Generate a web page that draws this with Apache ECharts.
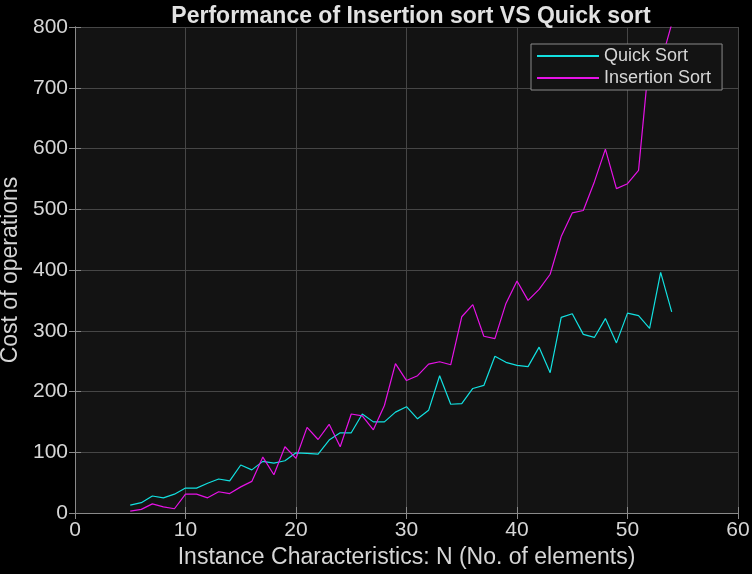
<!doctype html>
<html lang="en">
<head>
	<meta charset="UTF-8">
	<title>Insertion sort VS Quick sort</title>
	<style>
		html, body { margin: 0; padding: 0; background: #000; }
		#chart { width: 752px; height: 574px; }
	</style>
</head>
<body>
<div id="chart"></div>
<script src="https://cdn.jsdelivr.net/npm/echarts@6/dist/echarts.min.js"></script>
<script>
	// N values (no. of elements)
	var sizes = [5, 6, 7, 8, 9, 10, 11, 12, 13, 14, 15, 16, 17, 18, 19, 20, 21, 22, 23, 24,
		25, 26, 27, 28, 29, 30, 31, 32, 33, 34, 35, 36, 37, 38, 39, 40, 41, 42, 43, 44,
		45, 46, 47, 48, 49, 50, 51, 52, 53, 54];

	var quickCost = [13, 17, 28, 25, 31, 41, 41, 49, 56, 53, 79, 71, 85, 82, 86, 99, 98, 97, 120, 132,
		132, 163, 150, 150, 166, 175, 155, 169, 226, 179, 180, 205, 210, 258, 248, 243, 241, 273, 231, 322,
		328, 294, 289, 320, 280, 329, 325, 304, 396, 331];

	var insertionCost = [3, 6, 15, 10, 7, 31, 31, 25, 35, 32, 43, 52, 92, 63, 109, 90, 141, 121, 146, 109,
		163, 160, 137, 177, 246, 218, 226, 245, 249, 244, 323, 343, 291, 287, 345, 382, 350, 368, 393, 455,
		494, 498, 545, 599, 534, 542, 564, 755, 740, 805];

	var xTicks = { min: 0, max: 60, interval: 10 };
	var yTicks = { min: 0, max: 800, interval: 100 };

	function pairs(xs, ys) {
		var out = [];
		for (var i = 0; i < xs.length; i++) out.push([xs[i], ys[i]]);
		return out;
	}

	var txt = '#d6d6d6';
	var axisCol = '#8a8a8a';
	var font = 'Liberation Sans';

	var boxAxis = {
		axisLine: { show: true, lineStyle: { color: axisCol, width: 1 } },
		axisTick: { show: true, inside: true, length: 6, lineStyle: { color: axisCol } },
		axisLabel: { show: false },
		splitLine: { show: false }
	};

	var myChart = echarts.init(document.getElementById('chart'));
	var option = {
		animation: false,
		backgroundColor: '#000',
		title: {
			text: 'Performance of Insertion sort VS Quick sort',
			left: 406, textAlign: 'center', top: 0,
			textStyle: { color: '#e2e2e2', fontFamily: font, fontSize: 23, fontWeight: 'bold' }
		},
		legend: {
			orient: 'vertical',
			left: 531, top: 44,
			padding: [3, 11, 3, 6],
			itemGap: 4,
			itemWidth: 62, itemHeight: 2,
			icon: 'rect',
			backgroundColor: '#131313',
			borderColor: axisCol, borderWidth: 1,
			textStyle: { color: txt, fontFamily: font, fontSize: 18 },
			data: ['Quick Sort', 'Insertion Sort']
		},
		grid: {
			left: 75, right: 14, top: 27, bottom: 61,
			outerBoundsMode: 'none',
			show: true, backgroundColor: '#131313', borderWidth: 0
		},
		xAxis: [{
			type: 'value',
			min: xTicks.min, max: xTicks.max, interval: xTicks.interval,
			name: 'Instance Characteristics: N (No. of elements)',
			nameLocation: 'middle', nameGap: 32,
			nameTextStyle: { color: txt, fontFamily: font, fontSize: 23 },
			axisLine: { show: true, onZero: false, lineStyle: { color: axisCol, width: 1 } },
			axisTick: { show: true, inside: true, length: 6, lineStyle: { color: axisCol } },
			axisLabel: { color: txt, fontFamily: font, fontSize: 21, margin: 7 },
			splitLine: { show: true, lineStyle: { color: '#464646', width: 1 } }
		}, Object.assign({
			type: 'value', position: 'top',
			min: xTicks.min, max: xTicks.max, interval: xTicks.interval
		}, boxAxis)],
		yAxis: [{
			type: 'value',
			min: yTicks.min, max: yTicks.max, interval: yTicks.interval,
			name: 'Cost of operations',
			nameLocation: 'middle', nameGap: 48,
			nameTextStyle: { color: txt, fontFamily: font, fontSize: 23 },
			axisLine: { show: true, onZero: false, lineStyle: { color: axisCol, width: 1 } },
			axisTick: { show: true, inside: true, length: 6, lineStyle: { color: axisCol } },
			axisLabel: { color: txt, fontFamily: font, fontSize: 21, margin: 7 },
			splitLine: { show: true, lineStyle: { color: '#464646', width: 1 } }
		}, Object.assign({
			type: 'value', position: 'right',
			min: yTicks.min, max: yTicks.max, interval: yTicks.interval
		}, boxAxis)],
		series: [{
			name: 'Quick Sort',
			type: 'line',
			data: pairs(sizes, quickCost),
			showSymbol: false,
			itemStyle: { color: '#12e0e0' },
			lineStyle: { color: '#12e0e0', width: 1.2 }
		}, {
			name: 'Insertion Sort',
			type: 'line',
			data: pairs(sizes, insertionCost),
			showSymbol: false,
			itemStyle: { color: '#e612e6' },
			lineStyle: { color: '#e612e6', width: 1.2 }
		}]
	};
	myChart.setOption(option);
</script>
</body>
</html>
